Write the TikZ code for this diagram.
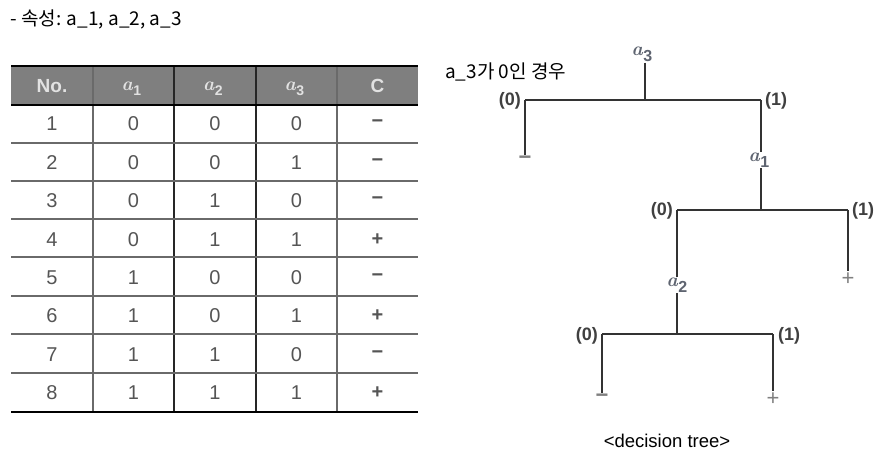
\documentclass[tikz,border=0pt]{standalone}
\usepackage{fontspec}
\setmainfont{Liberation Sans}
\newfontfamily\kr{Noto Sans CJK KR}
\newfontfamily\lmfont{Latin Modern Roman}
% #1 digit, #2 size of a, #3 size of subscript, #4 drop
\newcommand\attrlbl[4]{{\lmfont\bfseries\itshape\fontsize{#2}{#2}\selectfont a}\kern0.5pt\raisebox{-#4}{\bfseries\fontsize{#3}{#3}\selectfont #1}}
\definecolor{hdrfill}{HTML}{7F7F7F}
\definecolor{hdrtext}{HTML}{E2E2E2}
\definecolor{celltext}{HTML}{555555}
\definecolor{gridgray}{HTML}{6A6A6A}
\definecolor{treeline}{HTML}{333333}
\definecolor{leafgray}{HTML}{808080}
\definecolor{attrgray}{HTML}{5E6470}
\begin{document}
\begin{tikzpicture}[x=1pt,y=-1pt,
  cell/.style={font=\fontsize{20}{22}\selectfont, text=celltext, inner sep=0pt},
  hdr/.style={font=\bfseries\fontsize{19}{22}\selectfont, text=hdrtext, inner sep=0pt},
  hdrm/.style={text=hdrtext, inner sep=0pt},
  attr/.style={text=attrgray, inner sep=1pt},
  lbl/.style={font=\bfseries\fontsize{18}{20}\selectfont, text=black!75, inner sep=0pt},
  leaf/.style={font=\fontsize{22}{24}\selectfont, text=leafgray, inner sep=1pt},
  branch/.style={draw=treeline, line width=1.8pt},
  krtext/.style={font=\kr\fontsize{19}{22}\selectfont, inner sep=0pt}
]
\useasboundingbox[fill=white] (0,0) rectangle (882,460);

% title
\node[krtext, anchor=west] (title) at (10,19) {- 속성: a\_1, a\_2, a\_3};

% ---------- table ----------
\fill[hdrfill] (11,66) rectangle (418,105);
% vertical lines
\draw[gridgray, line width=1.4pt] (93,66) -- (93,412);
\draw[black!85, line width=1.4pt] (174,66) -- (174,412);
\draw[black!85, line width=1.4pt] (256,66) -- (256,412);
\draw[gridgray, line width=1.4pt] (337,66) -- (337,412);
% horizontal lines
\foreach \yy in {143,181,219,257,296,334,373}
  \draw[gridgray, line width=1.3pt] (11,\yy) -- (418,\yy);
\draw[black, line width=1.6pt] (11,105) -- (418,105);
\draw[black, line width=2.6pt] (11,66) -- (418,66);
\draw[black, line width=2.8pt] (11,412) -- (418,412);

% header
\node[hdr]  (h0) at (52,86)  {No.};
\node[hdrm] (h1) at (131.5,89) {\attrlbl{1}{19}{14}{5pt}};
\node[hdrm] (h2) at (213,89) {\attrlbl{2}{19}{14}{5pt}};
\node[hdrm] (h3) at (294.5,89) {\attrlbl{3}{19}{14}{5pt}};
\node[hdr]  (h4) at (377.5,86) {C};

% body
\foreach \r/\aa/\bb/\cc/\cl [count=\i] in {1/0/0/0/−,2/0/0/1/−,3/0/1/0/−,4/0/1/1/+,5/1/0/0/−,6/1/0/1/+,7/1/1/0/−,8/1/1/1/+}{
  \pgfmathsetmacro{\yc}{124+38.4*(\i-1)}
  \node[cell] (r\i c0) at (52,\yc) {\r};
  \node[cell] (r\i c1) at (133.5,\yc) {\aa};
  \node[cell] (r\i c2) at (215,\yc) {\bb};
  \node[cell] (r\i c3) at (296.5,\yc) {\cc};
  \node[cell] (r\i c4) at (377.5,\yc) {\bfseries\cl};
}

% ---------- decision tree ----------
\node[krtext, anchor=west] (note) at (445,72) {a\_3가 0인 경우};

\node[attr] (A3) at (642,54) {\attrlbl{3}{19}{16}{6pt}};
\coordinate (j3) at (645,100);
\coordinate (l3) at (525,100);
\coordinate (r3) at (761,100);
\node[lbl, anchor=east] (z3) at (521,101) {(0)};
\node[lbl, anchor=west] (o3) at (765,101) {(1)};
\node[leaf] (L1) at (525,160) {\bfseries −};

\node[attr] (A1) at (759,160) {\attrlbl{1}{19}{16}{6pt}};
\coordinate (j1) at (761,210);
\coordinate (l1) at (677,210);
\coordinate (r1) at (848,210);
\node[lbl, anchor=east] (z1) at (673,211) {(0)};
\node[lbl, anchor=west] (o1) at (852,211) {(1)};
\node[leaf] (L2) at (848,279) {+};

\node[attr] (A2) at (677,285) {\attrlbl{2}{19}{16}{6pt}};
\coordinate (j2) at (677,334);
\coordinate (l2) at (602,334);
\coordinate (r2) at (773,334);
\node[lbl, anchor=east] (z2) at (598,336) {(0)};
\node[lbl, anchor=west] (o2) at (778,336) {(1)};
\node[leaf] (L3) at (602,398) {\bfseries −};
\node[leaf] (L4) at (773,399) {+};

\draw[branch] (A3.south -| j3) -- (j3);
\draw[branch] (l3) -- (r3);
\draw[branch] (l3) -- (L1.north -| l3);
\draw[branch] (r3) -- (A1.north -| r3);

\draw[branch] (A1.south -| j1) -- (j1);
\draw[branch] (l1) -- (r1);
\draw[branch] (r1) -- (L2.north -| r1);
\draw[branch] (l1) -- (A2.north -| l1);

\draw[branch] (A2.south -| j2) -- (j2);
\draw[branch] (l2) -- (r2);
\draw[branch] (l2) -- (L3.north -| l2);
\draw[branch] (r2) -- (L4.north -| r2);

\node[font=\fontsize{18.5}{20}\selectfont, inner sep=0pt] (cap) at (667,441) {<decision tree>};
\end{tikzpicture}
\end{document}
